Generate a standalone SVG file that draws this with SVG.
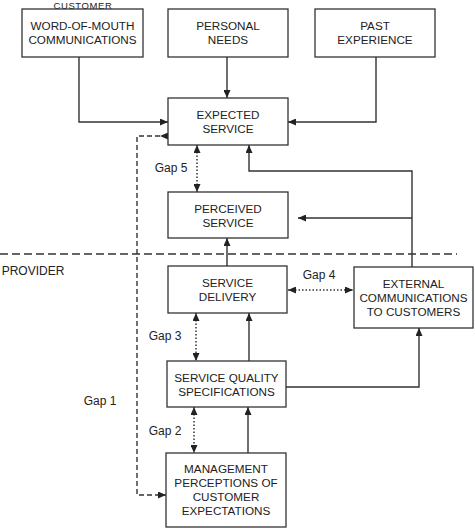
<svg xmlns="http://www.w3.org/2000/svg" width="475" height="532" viewBox="0 0 475 532">
<defs>
<marker id="ah" markerUnits="userSpaceOnUse" markerWidth="9" markerHeight="7" refX="8" refY="3.5" orient="auto-start-reverse"><path d="M0,0 L8,3.5 L0,7 z" fill="#222"/></marker>
</defs>
<style>
.box{fill:#fff;stroke:#333;stroke-width:1.3}
text{font-family:"Liberation Sans",Arial,sans-serif;font-size:11.7px;fill:#222;text-anchor:middle}
.lbl{font-size:12px}
.ln{fill:none;stroke:#333;stroke-width:1.4}
.dot{fill:none;stroke:#333;stroke-width:1.5;stroke-dasharray:1.5 2}
.dash{fill:none;stroke:#333;stroke-width:1.4;stroke-dasharray:5 3}
.div{fill:none;stroke:#333;stroke-width:1.3;stroke-dasharray:8 4}
</style>
<rect width="475" height="532" fill="#fff"/>
<text x="83" y="8.6" class="lbl" style="font-size:9.5px;letter-spacing:0.6px">CUSTOMER</text>
<text x="33" y="275" class="lbl">PROVIDER</text>
<path class="div" d="M0,254 H457"/>
<g id="connectors">
<path class="ln" d="M79,57 V122 H168" marker-end="url(#ah)"/>
<path class="ln" d="M227,57 V98" marker-end="url(#ah)"/>
<path class="ln" d="M376,57 V122 H288" marker-end="url(#ah)"/>
<path class="ln" d="M412,267 V171 H249 V145" marker-end="url(#ah)"/>
<path class="ln" d="M412,218 H298" marker-end="url(#ah)"/>
<path class="ln" d="M227,266 V238" marker-end="url(#ah)"/>
<path class="ln" d="M249,361 V313" marker-end="url(#ah)"/>
<path class="ln" d="M248,453 V407" marker-end="url(#ah)"/>
<path class="ln" d="M286,387 H419 V328" marker-end="url(#ah)"/>
<path class="dot" d="M197,145 V192" marker-start="url(#ah)" marker-end="url(#ah)"/>
<path class="dot" d="M196,313 V361" marker-start="url(#ah)" marker-end="url(#ah)"/>
<path class="dot" d="M194,407 V453" marker-start="url(#ah)" marker-end="url(#ah)"/>
<path class="dot" d="M288,290 H353" marker-start="url(#ah)" marker-end="url(#ah)"/>
<path class="dash" d="M168,136 H137 V495 H166" marker-end="url(#ah)"/>
<path class="dash" d="M168,136 H160" marker-end="url(#ah)"/>
<text x="171" y="172" class="lbl">Gap 5</text>
<text x="319" y="279" class="lbl">Gap 4</text>
<text x="165" y="340" class="lbl">Gap 3</text>
<text x="100" y="405" class="lbl">Gap 1</text>
<text x="165" y="435" class="lbl">Gap 2</text>
</g>
<g id="wom"><rect class="box" x="22" y="9" width="121" height="48"/><text x="82.5" y="30">WORD-OF-MOUTH</text><text x="82.5" y="44">COMMUNICATIONS</text></g>
<g id="needs"><rect class="box" x="168" y="9" width="120" height="48"/><text x="228" y="30">PERSONAL</text><text x="228" y="44">NEEDS</text></g>
<g id="past"><rect class="box" x="315" y="9" width="120" height="48"/><text x="375" y="30">PAST</text><text x="375" y="44">EXPERIENCE</text></g>
<g id="expected"><rect class="box" x="168" y="98" width="120" height="47"/><text x="228" y="119">EXPECTED</text><text x="228" y="133">SERVICE</text></g>
<g id="perceived"><rect class="box" x="168" y="192" width="120" height="46"/><text x="228" y="212.5">PERCEIVED</text><text x="228" y="226.5">SERVICE</text></g>
<g id="delivery"><rect class="box" x="168" y="266" width="119" height="47"/><text x="227.5" y="287">SERVICE</text><text x="227.5" y="301">DELIVERY</text></g>
<g id="external"><rect class="box" x="354" y="267" width="119" height="61"/><text x="413.5" y="288">EXTERNAL</text><text x="413.5" y="302">COMMUNICATIONS</text><text x="413.5" y="316">TO CUSTOMERS</text></g>
<g id="sqs"><rect class="box" x="167" y="361" width="119" height="46"/><text x="226.5" y="381.5">SERVICE QUALITY</text><text x="226.5" y="395.5">SPECIFICATIONS</text></g>
<g id="mgmt"><rect class="box" x="166" y="453" width="120" height="74"/><text x="226" y="473">MANAGEMENT</text><text x="226" y="487">PERCEPTIONS OF</text><text x="226" y="501">CUSTOMER</text><text x="226" y="515">EXPECTATIONS</text></g>
</svg>
